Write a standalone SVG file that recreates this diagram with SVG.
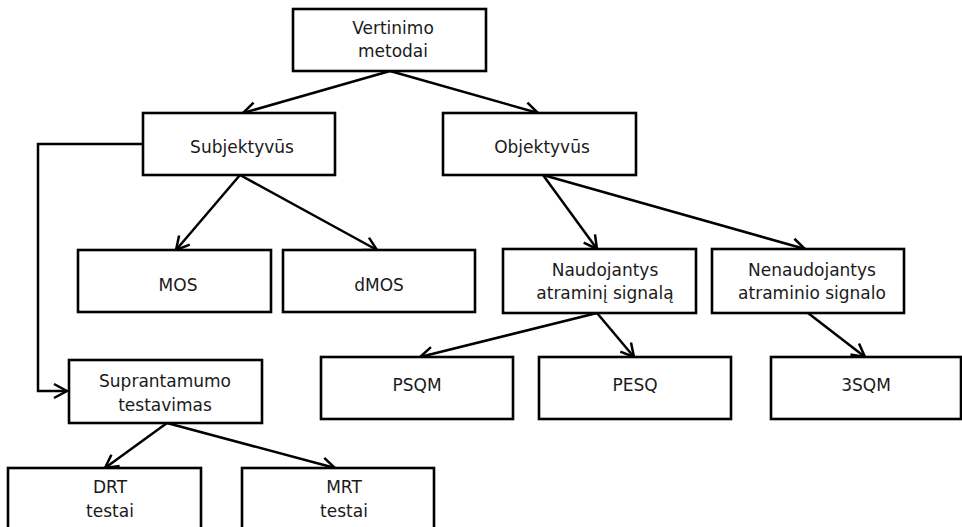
<svg xmlns="http://www.w3.org/2000/svg" width="962" height="527" viewBox="0 0 962 527">
<defs>
<style>
.box{fill:#fff;stroke:#000;stroke-width:2.6}
.t{font-family:"DejaVu Sans",sans-serif;font-size:17px;fill:#1a1a1a;text-anchor:middle}
.c{fill:none;stroke:#000;stroke-width:2.5}
</style>
<marker id="ar" markerUnits="userSpaceOnUse" viewBox="-16 -9 18 18" refX="0" refY="0" markerWidth="18" markerHeight="18" orient="auto">
<path d="M-13,-7 L0,0 L-13,7" fill="none" stroke="#000" stroke-width="2.5"/>
</marker>
</defs>
<rect width="962" height="527" fill="#fff"/>
<g id="connectors">
<path class="c" marker-end="url(#ar)" d="M390,71 L243,113"/>
<path class="c" marker-end="url(#ar)" d="M390,71 L538,113"/>
<path class="c" marker-end="url(#ar)" d="M240,175 L176,250"/>
<path class="c" marker-end="url(#ar)" d="M240,175 L377,250"/>
<path class="c" marker-end="url(#ar)" d="M543,175 L597,249"/>
<path class="c" marker-end="url(#ar)" d="M543,175 L805,249"/>
<path class="c" marker-end="url(#ar)" d="M597,313 L420,357"/>
<path class="c" marker-end="url(#ar)" d="M597,313 L634,357"/>
<path class="c" marker-end="url(#ar)" d="M808,313 L865,357"/>
<path class="c" marker-end="url(#ar)" d="M143,144 L38,144 L38,391 L67,391"/>
<path class="c" marker-end="url(#ar)" d="M167,423 L105,468"/>
<path class="c" marker-end="url(#ar)" d="M167,423 L335,468"/>
</g>
<g id="n-vertinimo"><rect class="box" x="293" y="9" width="193" height="62"/><text class="t" x="393" y="34">Vertinimo</text><text class="t" x="393" y="57">metodai</text></g>
<g id="n-subjektyvus"><rect class="box" x="143" y="113" width="192" height="62"/><text class="t" x="242" y="153">Subjektyvūs</text></g>
<g id="n-objektyvus"><rect class="box" x="443" y="113" width="193" height="62"/><text class="t" x="542" y="153">Objektyvūs</text></g>
<g id="n-mos"><rect class="box" x="78" y="250" width="193" height="62"/><text class="t" x="178" y="291">MOS</text></g>
<g id="n-dmos"><rect class="box" x="283" y="250" width="192" height="62"/><text class="t" x="379" y="291">dMOS</text></g>
<g id="n-naudojantys"><rect class="box" x="503" y="249" width="193" height="64"/><text class="t" x="605" y="276">Naudojantys</text><text class="t" x="605" y="299">atraminį signalą</text></g>
<g id="n-nenaudojantys"><rect class="box" x="712" y="249" width="192" height="64"/><text class="t" x="812" y="276">Nenaudojantys</text><text class="t" x="812" y="299">atraminio signalo</text></g>
<g id="n-suprantamumo"><rect class="box" x="69" y="360" width="193" height="63"/><text class="t" x="165" y="387">Suprantamumo</text><text class="t" x="165" y="411">testavimas</text></g>
<g id="n-psqm"><rect class="box" x="321" y="357" width="192" height="62"/><text class="t" x="417" y="391">PSQM</text></g>
<g id="n-pesq"><rect class="box" x="539" y="357" width="192" height="62"/><text class="t" x="635" y="391">PESQ</text></g>
<g id="n-3sqm"><rect class="box" x="771" y="357" width="190" height="62"/><text class="t" x="866" y="391">3SQM</text></g>
<g id="n-drt"><rect class="box" x="8" y="468" width="193" height="70"/><text class="t" x="110" y="493">DRT</text><text class="t" x="110" y="517">testai</text></g>
<g id="n-mrt"><rect class="box" x="242" y="468" width="192" height="70"/><text class="t" x="344" y="493">MRT</text><text class="t" x="344" y="517">testai</text></g>
</svg>
